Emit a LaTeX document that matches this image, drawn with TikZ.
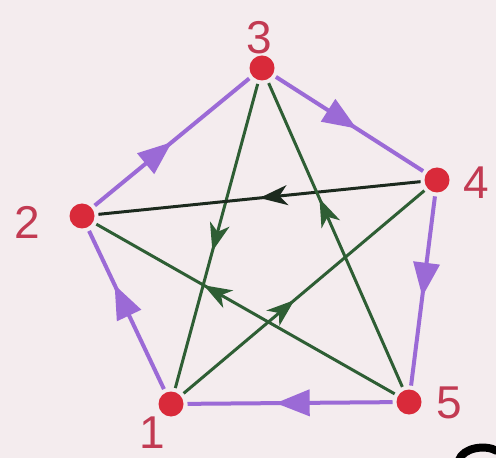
\documentclass[tikz,border=0pt]{standalone}
\usepackage{fontspec}
\setmainfont{Liberation Sans}
\usetikzlibrary{arrows.meta,decorations.markings}
\definecolor{bg}{HTML}{F4ECEE}
\definecolor{dotred}{HTML}{D92A3A}
\definecolor{lblred}{HTML}{C23A52}
\definecolor{purp}{HTML}{9B6AD6}
\definecolor{grn}{HTML}{2E5E34}
\definecolor{dark}{HTML}{1C2A1E}
\tikzset{
  vert/.style={circle,fill=dotred,minimum size=12.5pt,inner sep=0pt,outer sep=2pt},
  lbl/.style={text=lblred,font=\fontsize{23}{23}\selectfont,inner sep=0pt},
  pedge/.style={draw=purp,line width=2pt,postaction={decorate},
    decoration={markings,mark=at position #1 with {\arrow{Triangle[length=17pt,width=13pt,fill=purp]}}}},
  gedge/.style={draw=grn,line width=1.5pt,postaction={decorate},
    decoration={markings,mark=at position #1 with {\arrow{Stealth[length=14pt,width=10pt,inset=4pt,fill=grn]}}}},
  kedge/.style={draw=dark,line width=1.5pt,postaction={decorate},
    decoration={markings,mark=at position #1 with {\arrow{Stealth[length=14pt,width=10pt,inset=4pt,fill=dark]}}}},
}
\begin{document}
\begin{tikzpicture}[x=0.5pt,y=-0.5pt]
\fill[bg] (0,0) rectangle (496,458);
\useasboundingbox (0,0) rectangle (496,458);
\node[vert] (n3) at (262,68) {};
\node[vert] (n4) at (437,180) {};
\node[vert] (n2) at (82,216) {};
\node[vert] (n1) at (171,404) {};
\node[vert] (n5) at (409,402) {};
\node[lbl] (l3) at (259,38) {3};
\node[lbl] (l4) at (476,183) {4};
\node[lbl] (l2) at (27,222) {2};
\node[lbl] (l1) at (152,433) {1};
\node[lbl] (l5) at (449,403) {5};
% outer cycle
\draw[pedge=0.5] (n2) -- (n3);
\draw[pedge=0.55] (n3) -- (n4);
\draw[pedge=0.53] (n4) -- (n5);
\draw[pedge=0.57] (n5) -- (n1);
\draw[pedge=0.66] (n1) -- (n2);
% star
\draw[gedge=0.55] (n3) -- (n1);
\draw[kedge=0.5] (n4) -- (n2);
\draw[gedge=0.62] (n5) -- (n3);
\draw[gedge=0.64] (n5) -- (n2);
\draw[gedge=0.46] (n1) -- (n4);
% partial black mark at corner
\draw[black,line width=4pt] (459,460) .. controls (463,448) and (485,444) .. (497,451);
\end{tikzpicture}
\end{document}
